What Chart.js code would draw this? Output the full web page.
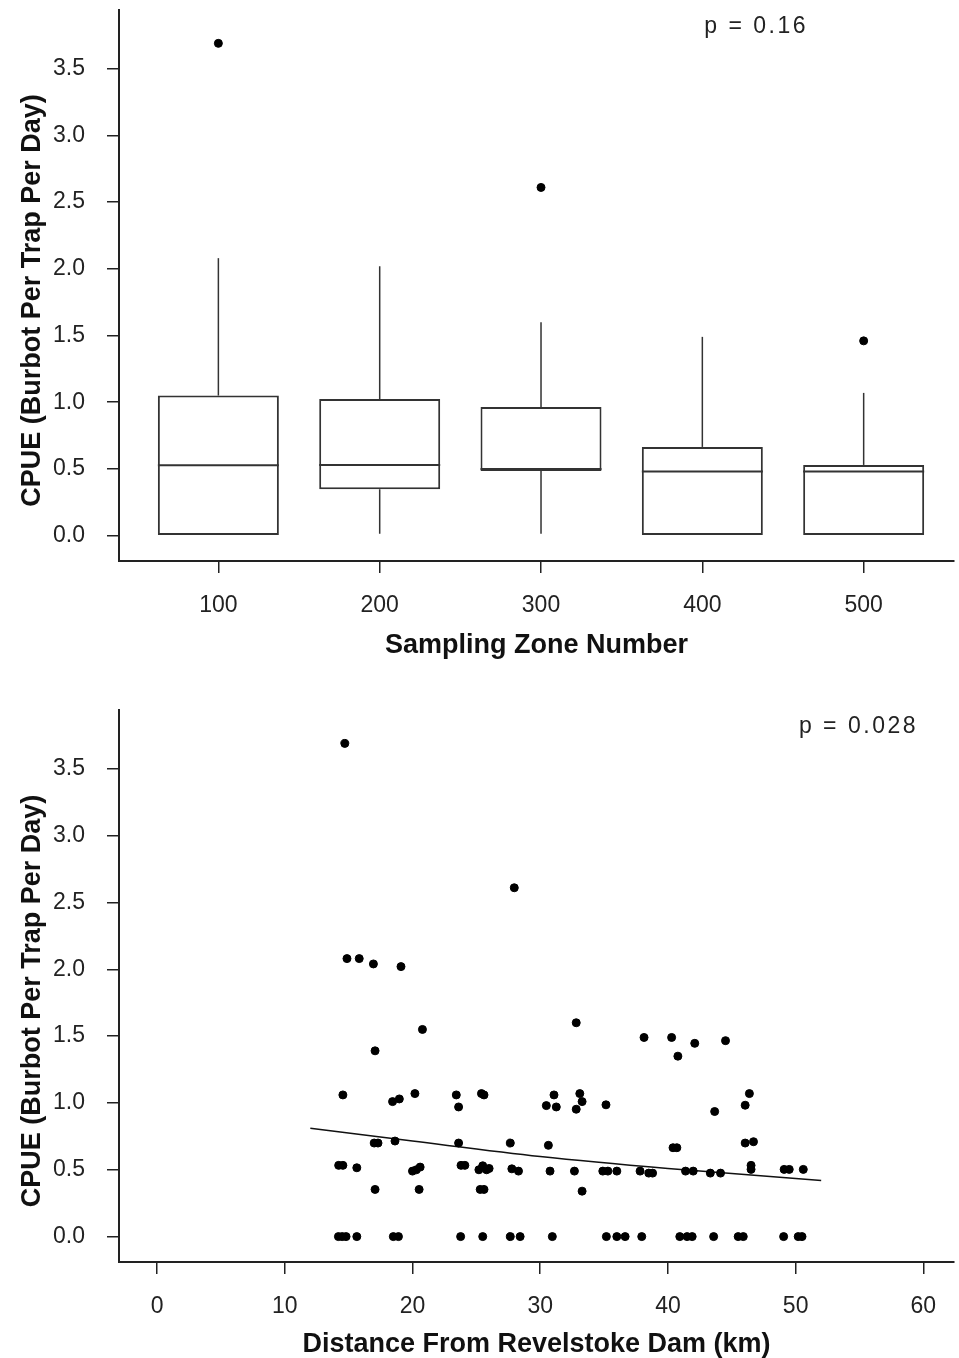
<!DOCTYPE html>
<html lang="en">
<head>
<meta charset="UTF-8">
<title>CPUE Burbot</title>
<script src="https://cdn.jsdelivr.net/npm/chart.js@4.4.1/dist/chart.umd.min.js"></script>
<style>
  html, body { margin: 0; padding: 0; background: #fff; }
  .panel { position: absolute; left: 0; width: 959px; }
  #panelTop { top: 0; height: 680px; }
  #panelBottom { top: 680px; height: 678px; }
</style>
</head>
<body>
<div class="panel" id="panelTop"><canvas id="zoneChart" width="959" height="680"></canvas></div>
<div class="panel" id="panelBottom"><canvas id="distChart" width="959" height="678"></canvas></div>
<script>
// Datos del diagrama de cajas (zona de muestreo)
const zonas = [100, 200, 300, 400, 500];
const bigoteBajo = [0, 0.015, 0.015, 0, 0];
const cuartil1 = [0, 0.347, 0.485, 0, 0];
const mediana = [0.527, 0.53, 0.5, 0.48, 0.48];
const cuartil3 = [1.05, 1.025, 0.965, 0.665, 0.53];
const bigoteAlto = [2.08, 2.02, 1.60, 1.49, 1.07];
const atipicosZona = [100, 300, 500];
const atipicosValor = [3.69, 2.61, 1.46];

// Datos de dispersión (distancia a la presa)
const distanciaKm = [
  14.7, 27.97, 14.87, 15.83, 16.94, 19.1, 20.78, 17.07, 14.55, 18.44,
  18.97, 20.19, 17.0, 17.3, 18.63, 14.22, 14.55, 15.64, 20.0, 20.3,
  20.6, 17.07, 20.52, 14.2, 14.5, 14.8, 15.64, 18.5, 18.9, 23.43,
  23.61, 25.4, 25.6, 31.08, 30.48, 31.26, 23.61, 27.66, 30.64, 23.8,
  24.1, 25.2, 25.5, 25.8, 26.0, 27.78, 28.3, 30.77, 25.3, 25.6,
  23.77, 25.5, 27.66, 28.43, 30.95, 32.82, 38.13, 40.29, 40.78, 42.1,
  33.1, 33.28, 32.82, 35.15, 40.4, 40.7, 32.68, 34.9, 35.3, 36.0,
  37.82, 38.5, 38.8, 33.28, 41.38, 41.98, 35.18, 36.0, 36.65, 37.95,
  40.93, 41.5, 41.9, 44.51, 46.38, 46.05, 43.66, 46.05, 46.7, 46.51,
  46.51, 43.32, 44.12, 49.1, 49.5, 50.6, 43.58, 45.5, 45.9, 49.06,
  50.2, 50.5
];
const cpue = [
  3.69, 2.61, 2.08, 2.08, 2.04, 2.02, 1.55, 1.39, 1.06, 1.01,
  1.03, 1.07, 0.70, 0.70, 0.715, 0.533, 0.533, 0.515, 0.49, 0.50,
  0.52, 0.353, 0.353, 0, 0, 0, 0, 0, 0, 1.06,
  0.97, 1.07, 1.06, 1.06, 0.98, 0.97, 0.70, 0.70, 0.683, 0.533,
  0.533, 0.50, 0.53, 0.50, 0.51, 0.507, 0.49, 0.49, 0.353, 0.353,
  0, 0, 0, 0, 0, 1.60, 1.49, 1.49, 1.35, 1.446,
  1.07, 1.01, 0.953, 0.986, 0.665, 0.665, 0.49, 0.49, 0.49, 0.49,
  0.49, 0.475, 0.475, 0.34, 0.49, 0.49, 0, 0, 0, 0,
  0, 0, 0, 1.466, 1.07, 0.983, 0.936, 0.70, 0.71, 0.533,
  0.503, 0.475, 0.475, 0.503, 0.503, 0.503, 0, 0, 0, 0,
  0, 0
];

// Curva de tendencia
const tendenciaKm = [12, 20, 30, 40, 52];
const tendenciaCpue = [0.81, 0.715, 0.60, 0.51, 0.42];

// Marcas de los ejes
const ticksY = [0, 0.5, 1.0, 1.5, 2.0, 2.5, 3.0, 3.5];
const ticksDist = [0, 10, 20, 30, 40, 50, 60];

const fuente = '"Liberation Sans", Arial, sans-serif';
const fuenteTicks = { family: fuente, size: 23 };
const fuenteTitulo = { family: fuente, size: 27, weight: 'bold' };
const tinta = '#222';

// Dibuja bigotes y medianas usando las escalas del gráfico
const cajasPlugin = {
  id: 'cajas',
  afterDatasetsDraw(chart) {
    const { ctx, scales: { y } } = chart;
    const meta = chart.getDatasetMeta(0);
    ctx.save();
    ctx.strokeStyle = '#333';
    meta.data.forEach((barra, i) => {
      const cx = barra.x;
      const mitad = barra.width / 2;
      ctx.lineWidth = 1.5;
      ctx.beginPath();
      ctx.moveTo(cx, y.getPixelForValue(cuartil3[i]));
      ctx.lineTo(cx, y.getPixelForValue(bigoteAlto[i]));
      if (bigoteBajo[i] < cuartil1[i]) {
        ctx.moveTo(cx, y.getPixelForValue(cuartil1[i]));
        ctx.lineTo(cx, y.getPixelForValue(bigoteBajo[i]));
      }
      ctx.stroke();
      ctx.lineWidth = 2;
      ctx.beginPath();
      const ym = y.getPixelForValue(mediana[i]);
      ctx.moveTo(cx - mitad, ym);
      ctx.lineTo(cx + mitad, ym);
      ctx.stroke();
    });
    ctx.restore();
  }
};

// Texto del valor p y título vertical (un poco bajo el centro, como el original)
const textos = {
  id: 'textos',
  afterDraw(chart, args, opts) {
    const { ctx, chartArea } = chart;
    ctx.save();
    ctx.font = '23px ' + fuente;
    ctx.letterSpacing = '2.5px';
    ctx.fillStyle = tinta;
    ctx.textAlign = 'right';
    ctx.textBaseline = 'middle';
    ctx.fillText(opts.p, opts.px, opts.py);
    ctx.restore();

    ctx.save();
    ctx.translate(33, (chartArea.top + chartArea.bottom) / 2 + 15);
    ctx.rotate(-Math.PI / 2);
    ctx.font = 'bold 27px ' + fuente;
    ctx.fillStyle = '#111';
    ctx.textAlign = 'center';
    ctx.textBaseline = 'middle';
    ctx.fillText('CPUE (Burbot Per Trap Per Day)', 0, 0);
    ctx.restore();
  }
};

function ejeY() {
  return {
    min: -0.19,
    max: 3.94,
    afterBuildTicks: s => { s.ticks = ticksY.map(v => ({ value: v })); },
    afterFit: s => { s.width = 119; s.paddingTop = 0; s.paddingBottom = 0; },
    border: { color: tinta, width: 2 },
    grid: { drawOnChartArea: false, offset: false, color: tinta, lineWidth: 1.5, tickLength: 12 },
    ticks: { color: tinta, font: fuenteTicks, padding: 22, callback: v => v.toFixed(1) }
  };
}

function ejeX(min, max, marcas, alto, titulo, padTitulo) {
  return {
    type: 'linear',
    min: min,
    max: max,
    offset: false,
    afterBuildTicks: s => { s.ticks = marcas.map(v => ({ value: v })); },
    afterFit: s => { s.height = alto; s.paddingLeft = 0; s.paddingRight = 0; },
    border: { color: tinta, width: 2 },
    grid: { drawOnChartArea: false, offset: false, color: tinta, lineWidth: 1.5, tickLength: 12 },
    ticks: { color: tinta, font: fuenteTicks, padding: 19, callback: v => String(v) },
    title: { display: true, text: titulo, color: '#111', font: fuenteTitulo, padding: { top: 0, bottom: padTitulo } }
  };
}

// Gráfica superior: cajas por zona
new Chart(document.getElementById('zoneChart'), {
  type: 'bar',
  data: {
    datasets: [{
      data: zonas.map((z, i) => ({ x: z, y: [cuartil1[i], cuartil3[i]] })),
      backgroundColor: '#fff',
      borderColor: '#333',
      borderWidth: 2,
      borderSkipped: false,
      barPercentage: 0.75,
      categoryPercentage: 1
    }, {
      type: 'scatter',
      data: atipicosZona.map((z, i) => ({ x: z, y: atipicosValor[i] })),
      backgroundColor: '#000',
      borderColor: '#000',
      pointRadius: 4
    }]
  },
  options: {
    responsive: false,
    animation: false,
    layout: { padding: { top: 10, right: 0, left: 0, bottom: 0 } },
    plugins: {
      legend: { display: false },
      tooltip: { enabled: false },
      textos: { p: 'p = 0.16', px: 808, py: 27 }
    },
    scales: {
      x: ejeX(38.4, 556, zonas, 680 - 561, 'Sampling Zone Number', 18),
      y: ejeY()
    }
  },
  plugins: [cajasPlugin, textos]
});

// Gráfica inferior: dispersión por distancia
new Chart(document.getElementById('distChart'), {
  type: 'scatter',
  data: {
    datasets: [{
      data: distanciaKm.map((d, i) => ({ x: d, y: cpue[i] })),
      backgroundColor: '#000',
      borderColor: '#000',
      pointRadius: 4
    }, {
      type: 'line',
      data: tendenciaKm.map((d, i) => ({ x: d, y: tendenciaCpue[i] })),
      borderColor: '#111',
      borderWidth: 1.5,
      pointRadius: 0,
      fill: false,
      cubicInterpolationMode: 'monotone'
    }]
  },
  options: {
    responsive: false,
    animation: false,
    layout: { padding: { top: 30, right: 0, left: 0, bottom: 0 } },
    plugins: {
      legend: { display: false },
      tooltip: { enabled: false },
      textos: { p: 'p = 0.028', px: 918, py: 47 }
    },
    scales: {
      x: ejeX(-2.98, 62.4, ticksDist, 678 - 582, 'Distance From Revelstoke Dam (km)', -3),
      y: ejeY()
    }
  },
  plugins: [textos]
});
</script>
</body>
</html>
